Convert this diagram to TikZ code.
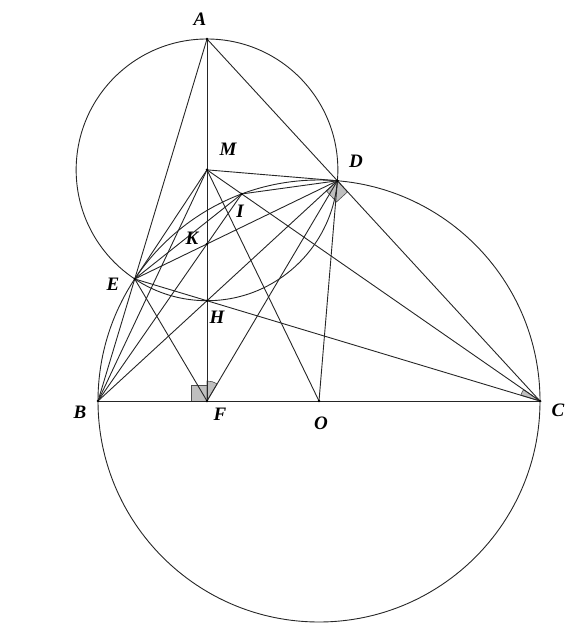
\documentclass[tikz,border=0pt]{standalone}
\usepackage{fontspec}
\setmainfont{Liberation Serif}
\usetikzlibrary{calc}
\begin{document}
\begin{tikzpicture}[x=1pt,y=-1pt,
  ln/.style={line width=0.9pt, draw=black!85},
  lbl/.style={font=\fontsize{19}{19}\selectfont\bfseries\itshape, inner sep=0pt},
  mk/.style={fill=black!25, draw=black!70, line width=0.6pt}]
\useasboundingbox (0,0) rectangle (582,636);
% points
\coordinate (A) at (207,39);
\coordinate (B) at (98,401);
\coordinate (C) at (540,401);
\coordinate (F) at (207,401);
\coordinate (O) at (319,401);
\coordinate (D) at (337.41,180.77);
\coordinate (E) at (134.74,278.97);
\coordinate (H) at (207,300.7);
\coordinate (M) at (207,169.85);
\coordinate (I) at (241.72,193.95);
\coordinate (K) at (207,243.96);
% marks
\draw[mk] (F) -- (191,401) -- (191,385) -- (207,385) -- cycle;
\draw[mk] (F) -- +(-90:20) arc[start angle=-90, end angle=-59.4, radius=20] -- cycle;
\draw[mk] (D) -- (326.37,190.93) -- (336.53,201.97) -- (347.57,191.81) -- cycle;
\draw[mk] (C) -- +(-163.24:20) arc[start angle=-163.24, end angle=-145.23, radius=20] -- cycle;
% circles
\draw[ln] (O) circle[radius=221];
\draw[ln] (M) circle[radius=130.85];
% segments
\draw[ln] (A) -- (B);
\draw[ln] (A) -- (F);
\draw[ln] (A) -- (C);
\draw[ln] (B) -- (C);
\draw[ln] (B) -- (D);
\draw[ln] (C) -- (E);
\draw[ln] (M) -- (D);
\draw[ln] (M) -- (E);
\draw[ln] (M) -- (C);
\draw[ln] (M) -- (O);
\draw[ln] (M) -- (B);
\draw[ln] (E) -- (D);
\draw[ln] (E) -- (F);
\draw[ln] (F) -- (D);
\draw[ln] (O) -- (D);
\draw[ln] (B) -- (I);
\draw[ln] (I) -- (D);
\draw[ln] (E) -- (I);
% dots
\foreach \p in {A,B,C,D,E,F,H,M,I,K,O} \fill[black] (\p) circle[radius=1.4];
% labels
\node[lbl] (lA) at (200,19) {A};
\node[lbl] (lM) at (228,149) {M};
\node[lbl] (lD) at (356,161) {D};
\node[lbl] (lI) at (240,211) {I};
\node[lbl] (lK) at (192,238) {K};
\node[lbl] (lE) at (113,284) {E};
\node[lbl] (lH) at (217,317) {H};
\node[lbl] (lB) at (80,412) {B};
\node[lbl] (lF) at (220,414) {F};
\node[lbl] (lO) at (321,423) {O};
\node[lbl] (lC) at (558,410) {C};
\end{tikzpicture}
\end{document}
